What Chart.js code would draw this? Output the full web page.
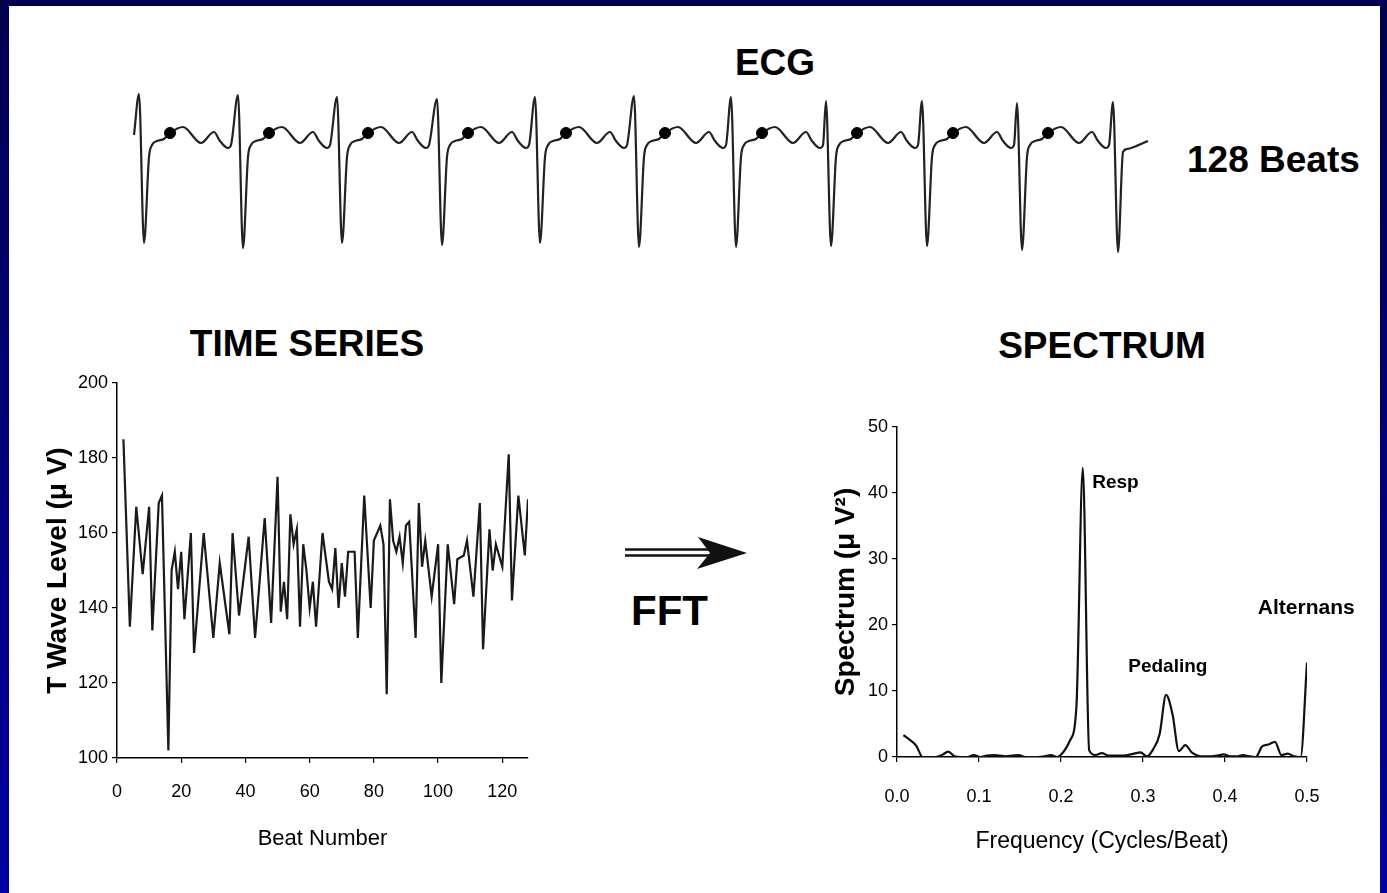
<!DOCTYPE html>
<html>
<head>
<meta charset="utf-8">
<script src="https://cdn.jsdelivr.net/npm/chart.js@4.4.1/dist/chart.umd.min.js"></script>
<style>
  html, body { margin: 0; padding: 0; background: #fff; }
  body { width: 1387px; height: 893px; position: relative; overflow: hidden; font-family: 'Liberation Sans', Arial, sans-serif; }
  .bar-top { position: absolute; left: 0; top: 0; width: 1387px; height: 6px; background: #00004f; }
  .bar-side { position: absolute; top: 0; height: 893px; background: linear-gradient(#00004f, #0000a3); }
  .lbl { position: absolute; font-weight: bold; color: #000; line-height: 1; white-space: nowrap; }
  .center { transform: translateX(-50%); }
  canvas { position: absolute; }
</style>
</head>
<body>
<div class="bar-top"></div>
<div class="bar-side" style="left:0;width:9px;"></div>
<div class="bar-side" style="right:0;width:7px;"></div>

<div class="lbl center" style="left:775px;top:44px;font-size:37px;">ECG</div>
<div class="lbl" style="left:1187px;top:141px;font-size:37px;">128 Beats</div>
<div class="lbl center" style="left:307px;top:325px;font-size:37px;">TIME SERIES</div>
<div class="lbl center" style="left:1102px;top:327px;font-size:37px;">SPECTRUM</div>
<div class="lbl" style="left:631px;top:590px;font-size:42px;">FFT</div>

<svg style="position:absolute;left:0;top:0;" width="1387" height="893">
  <line x1="625" y1="549.5" x2="712" y2="549.5" stroke="#111" stroke-width="2.5"/>
  <line x1="625" y1="555.5" x2="712" y2="555.5" stroke="#111" stroke-width="2.5"/>
  <polygon points="698,537 747,553 697,569 710,553" fill="#111"/>
</svg>

<canvas id="ecgChart" width="1040" height="185" style="left:120px;top:80px;"></canvas>
<canvas id="timeChart" width="540" height="500" style="left:20px;top:360px;"></canvas>
<canvas id="specChart" width="560" height="460" style="left:800px;top:400px;"></canvas>

<script>
// ECG strip (times in ms, levels in mV)
const rPeakTimes = [152, 944, 1736, 2536, 3320, 4112, 4888, 5648, 6416, 7176, 7944];
const rPeakLevels = [0.53, 0.52, 0.50, 0.48, 0.50, 0.51, 0.50, 0.46, 0.46, 0.44, 0.45];
const sTroughLevels = [-0.96, -1.01, -0.96, -0.98, -0.96, -1.00, -1.00, -0.99, -0.99, -1.03, -1.05];
// one beat after the S wave: offset from R (ms) and level
const beatOffsets = [80, 104, 144, 200, 248, 352, 496, 600, 648, 712, 736];
const beatLevels = [-0.10, 0.02, 0.06, 0.08, 0.14, 0.20, 0.04, 0.15, 0.06, -0.01, 0.02];
const tWaveMarkOffset = 248;
const tailOffsets = [80, 112, 168, 280];
const tailLevels = [-0.05, -0.02, 0.0, 0.06];
const stripStart = { offset: -40, level: 0.12 };

// T wave time series
const beatNumbers = [2, 4, 6, 8, 10, 11, 13, 14, 16, 17, 18, 19, 20, 21, 23, 24, 27, 30, 32, 35,
  36, 38, 41, 43, 46, 48, 50, 51, 52, 53, 54, 55, 56, 57, 58, 59, 60, 61, 62, 64,
  66, 67, 68, 69, 70, 71, 72, 74, 75, 77, 79, 80, 82, 83, 84, 85, 86, 87, 88, 89,
  90, 91, 93, 94, 95, 96, 98, 100, 101, 103, 105, 106, 108, 109, 111, 113, 114, 116, 117, 118,
  120, 122, 123, 125, 127, 128];
const tWaveLevels = [185, 135, 167, 149, 167, 134, 168, 170, 102, 150, 155, 145, 155, 137, 160, 128, 160, 132, 152, 133,
  160, 138, 159, 132, 164, 136, 175, 139, 147, 137, 165, 157, 161, 135, 157, 150, 140, 147, 135, 160,
  147, 145, 156, 140, 152, 143, 155, 155, 132, 170, 140, 158, 162, 157, 117, 169, 158, 155, 159, 152,
  162, 163, 132, 168, 151, 158, 143, 157, 120, 157, 141, 153, 154, 158, 143, 168, 129, 161, 150, 157,
  151, 181, 142, 170, 154, 169];

// spectrum, bins 1..64 of a 128 point FFT
const spectrumPower = [3.3, 2.6, 1.7, 0.0, 0.0, 0.0, 0.3, 0.8, 0.1, 0.0,
  0.0, 0.3, 0.0, 0.2, 0.3, 0.2, 0.1, 0.2, 0.3, 0.0,
  0.0, 0.0, 0.1, 0.3, 0.0, 0.8, 2.5, 7.5, 43.8, 1.0,
  0.3, 0.6, 0.2, 0.2, 0.2, 0.3, 0.5, 0.7, 0.1, 1.2,
  3.5, 9.4, 6.5, 0.9, 1.8, 0.7, 0.2, 0.1, 0.1, 0.2,
  0.4, 0.1, 0.1, 0.3, 0.1, 0.0, 1.6, 1.9, 2.3, 0.3,
  0.5, 0.1, 0.0, 14.3];
const fftLength = 128;

const peakLabels = ['Resp', 'Pedaling', 'Alternans'];
const peakLabelFreqs = [0.238, 0.282, 0.440];
const peakLabelLevels = [41.5, 13.6, 22.6];

const timeTicks = [0, 20, 40, 60, 80, 100, 120];

const FONT = "'Liberation Sans', Arial, sans-serif";

// build the ECG trace from the beat list
const ecgPoints = [{ x: rPeakTimes[0] + stripStart.offset, y: stripStart.level }];
const ecgMarks = [];
rPeakTimes.forEach((t, i) => {
  ecgPoints.push({ x: t, y: rPeakLevels[i] });
  ecgPoints.push({ x: t + 40, y: sTroughLevels[i] });
  const last = i === rPeakTimes.length - 1;
  const offs = last ? tailOffsets : beatOffsets;
  const levs = last ? tailLevels : beatLevels;
  offs.forEach((o, j) => {
    ecgPoints.push({ x: t + o, y: levs[j] });
    if (!last && o === tWaveMarkOffset) ecgMarks.push({ x: t + o, y: levs[j] });
  });
});

new Chart(document.getElementById('ecgChart'), {
  type: 'line',
  data: {
    datasets: [
      { data: ecgMarks, showLine: false, pointRadius: 5.5, pointBackgroundColor: '#000', pointBorderColor: '#000', clip: false },
      { data: ecgPoints, borderColor: '#222', borderWidth: 2.2, pointRadius: 0, cubicInterpolationMode: 'monotone', clip: false }
    ]
  },
  options: {
    responsive: false,
    animation: false,
    layout: { padding: 0, autoPadding: false },
    plugins: { legend: { display: false }, tooltip: { enabled: false } },
    scales: {
      x: { type: 'linear', display: false, min: 0, max: 8320 },
      y: { type: 'linear', display: false, min: -1.18, max: 0.67 }
    }
  }
});

function axisStyle(extra) {
  return Object.assign({
    border: { display: true, color: '#000', width: 1.5 },
    grid: { display: true, drawOnChartArea: false, drawTicks: true, tickLength: 5, color: '#000', lineWidth: 1.2 }
  }, extra);
}

new Chart(document.getElementById('timeChart'), {
  type: 'line',
  data: {
    datasets: [{
      data: beatNumbers.map((b, i) => ({ x: b, y: tWaveLevels[i] })),
      borderColor: '#1a1a1a', borderWidth: 2.2, pointRadius: 0, tension: 0
    }]
  },
  options: {
    responsive: false,
    animation: false,
    layout: { padding: { left: 0, right: 32, top: 23, bottom: 0 }, autoPadding: false },
    plugins: { legend: { display: false }, tooltip: { enabled: false } },
    scales: {
      x: axisStyle({
        type: 'linear', min: 0, max: 128,
        afterBuildTicks: (s) => { s.ticks = timeTicks.map(v => ({ value: v })); },
        afterFit: (s) => { s.height = 102; },
        ticks: { color: '#000', padding: 18, maxRotation: 0, font: { family: FONT, size: 18 } },
        title: { display: true, text: 'Beat Number', color: '#000', font: { family: FONT, size: 22 }, padding: { top: 0, bottom: 8 } }
      }),
      y: axisStyle({
        type: 'linear', min: 100, max: 200,
        ticks: { stepSize: 20, color: '#000', padding: 4, font: { family: FONT, size: 18 } },
        afterFit: (s) => { s.width = 97; },
        title: { display: true, text: 'T Wave Level (\u03bc V)', color: '#000', font: { family: FONT, size: 28, weight: 'bold' }, padding: { top: 21, bottom: 0 } }
      })
    }
  }
});

const peakLabelPlugin = {
  id: 'peakLabels',
  afterDatasetsDraw(chart) {
    const { ctx, scales: { x, y } } = chart;
    ctx.save();
    ctx.fillStyle = '#000';
    ctx.textAlign = 'left';
    ctx.textBaseline = 'middle';
    peakLabels.forEach((t, i) => {
      ctx.font = (i === 2 ? 'bold 21px ' : 'bold 19px ') + FONT;
      ctx.fillText(t, x.getPixelForValue(peakLabelFreqs[i]), y.getPixelForValue(peakLabelLevels[i]));
    });
    ctx.restore();
  }
};

new Chart(document.getElementById('specChart'), {
  type: 'line',
  data: {
    datasets: [{
      data: spectrumPower.map((p, i) => ({ x: (i + 1) / fftLength, y: p })),
      borderColor: '#111', borderWidth: 2.2, pointRadius: 0, cubicInterpolationMode: 'monotone'
    }]
  },
  options: {
    responsive: false,
    animation: false,
    layout: { padding: { left: 0, right: 53, top: 27, bottom: 0 }, autoPadding: false },
    plugins: { legend: { display: false }, tooltip: { enabled: false } },
    scales: {
      x: axisStyle({
        type: 'linear', min: 0, max: 0.5,
        afterFit: (s) => { s.height = 103; },
        ticks: { stepSize: 0.1, color: '#000', padding: 24, maxRotation: 0, font: { family: FONT, size: 18 },
          callback: (v) => Number(v).toFixed(1) },
        title: { display: true, text: 'Frequency (Cycles/Beat)', color: '#000', font: { family: FONT, size: 23 }, padding: { top: 0, bottom: 5 } }
      }),
      y: axisStyle({
        type: 'linear', min: 0, max: 50,
        ticks: { stepSize: 10, color: '#000', padding: 4, font: { family: FONT, size: 18 } },
        afterFit: (s) => { s.width = 97; },
        title: { display: true, text: 'Spectrum (\u03bc V\u00b2)', color: '#000', font: { family: FONT, size: 28, weight: 'bold' }, padding: { top: 29, bottom: 0 } }
      })
    }
  },
  plugins: [peakLabelPlugin]
});
</script>
</body>
</html>
